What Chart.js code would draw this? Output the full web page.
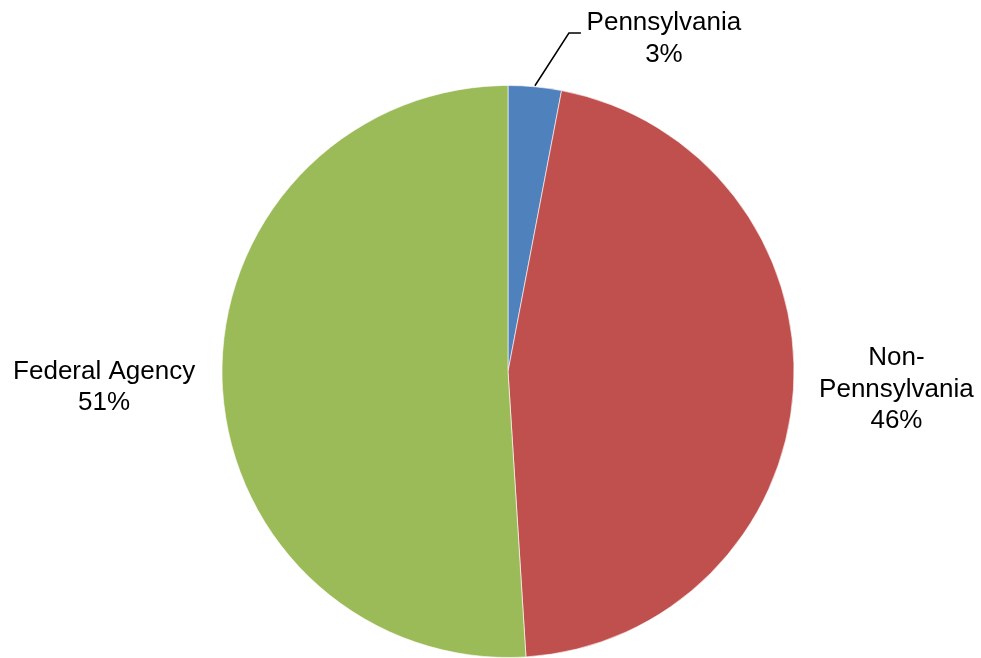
<!DOCTYPE html>
<html>
<head>
<meta charset="utf-8">
<script src="https://cdn.jsdelivr.net/npm/chart.js@4.4.1/dist/chart.umd.min.js"></script>
<style>
  html, body { margin: 0; padding: 0; background: #fff; }
  #wrap { width: 981px; height: 658px; }
</style>
</head>
<body>
<div id="wrap"><canvas id="fundingPie"></canvas></div>
<script>
const categories = ['Pennsylvania', 'Non-Pennsylvania', 'Federal Agency'];
const shares = [3, 46, 51];
const labelLines = [['Pennsylvania', '3%'], ['Non-', 'Pennsylvania', '46%'], ['Federal Agency', '51%']];
const sliceColors = ['#4F81BD', '#C0504D', '#9BBB59'];

// Draws the outside labels; positions are taken from each arc's middle angle
const outsideLabels = {
    id: 'outsideLabels',
    afterDatasetsDraw(chart, args, opts) {
        const ctx = chart.ctx;
        const arcs = chart.getDatasetMeta(0).data;
        ctx.save();
        ctx.font = '26px "Liberation Sans", Arial, sans-serif';
        ctx.fillStyle = '#000';
        ctx.textAlign = 'center';
        ctx.textBaseline = 'middle';
        arcs.forEach((arc, i) => {
            const mid = (arc.startAngle + arc.endAngle) / 2;
            const ex = arc.x + Math.cos(mid) * arc.outerRadius;
            const ey = arc.y + Math.sin(mid) * arc.outerRadius;
            const off = opts.offsets[i];
            const cx = ex + off[0];
            const cy = ey + off[1];
            const lines = labelLines[i];
            const lh = opts.lineHeight;
            const top = cy - (lines.length - 1) * lh / 2;
            lines.forEach((t, j) => ctx.fillText(t, cx, top + j * lh));

            if (off[2]) {
                // leader line for the small slice
                ctx.strokeStyle = '#000';
                ctx.lineWidth = 1.5;
                ctx.beginPath();
                ctx.moveTo(ex, ey - 1);
                ctx.lineTo(cx - 95, top + 10);
                ctx.lineTo(cx - 83, top + 10);
                ctx.stroke();
            }
        });
        ctx.restore();
    }
};

new Chart(document.getElementById('fundingPie').getContext('2d'), {
    type: 'pie',
    data: {
        labels: categories,
        datasets: [{
            data: shares,
            backgroundColor: sliceColors,
            borderColor: 'rgba(255,255,255,0.6)',
            borderWidth: 1
        }]
    },
    options: {
        responsive: true,
        maintainAspectRatio: false,
        animation: false,
        layout: { padding: { top: 85, bottom: -1, left: 35, right: 0 } },
        plugins: {
            legend: { display: false },
            tooltip: { enabled: false },
            outsideLabels: {
                lineHeight: 31.5,
                offsets: [[129, -48, true], [103, 0], [-118, 7]]
            }
        }
    },
    plugins: [outsideLabels]
});
</script>
</body>
</html>
